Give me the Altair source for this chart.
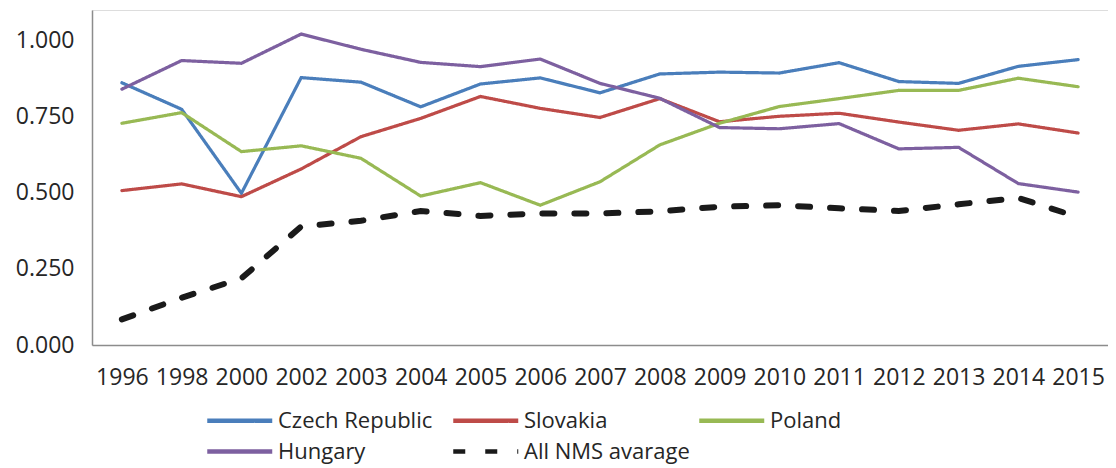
import altair as alt
import pandas as pd

years = ["1996", "1998", "2000", "2002", "2003", "2004", "2005", "2006", "2007",
         "2008", "2009", "2010", "2011", "2012", "2013", "2014", "2015"]

czech = [0.861, 0.774, 0.498, 0.878, 0.863, 0.782, 0.857, 0.877, 0.828,
         0.890, 0.896, 0.893, 0.927, 0.865, 0.859, 0.915, 0.937]
slovakia = [0.507, 0.529, 0.487, 0.578, 0.684, 0.744, 0.816, 0.777, 0.747,
            0.809, 0.733, 0.751, 0.761, 0.732, 0.705, 0.726, 0.696]
poland = [0.728, 0.763, 0.635, 0.654, 0.613, 0.489, 0.533, 0.459, 0.536,
          0.657, 0.728, 0.783, 0.809, 0.836, 0.836, 0.876, 0.848]
hungary = [0.840, 0.934, 0.925, 1.021, 0.971, 0.928, 0.914, 0.939, 0.859,
           0.810, 0.714, 0.710, 0.727, 0.644, 0.649, 0.530, 0.502]
nms_avg = [0.084, 0.155, 0.219, 0.389, 0.408, 0.440, 0.424, 0.432, 0.432,
           0.439, 0.454, 0.459, 0.449, 0.440, 0.462, 0.483, 0.420]

series_names = ["Czech Republic", "Slovakia", "Poland", "Hungary", "All NMS avarage"]
series_values = [czech, slovakia, poland, hungary, nms_avg]
series_colors = ["#4A7EBB", "#BE4B48", "#98B954", "#7D60A0", "#1A1A1A"]
series_dash = [[1, 0], [1, 0], [1, 0], [1, 0], [12, 20]]

rows = []
for name, vals in zip(series_names, series_values):
    for y, v in zip(years, vals):
        rows.append({"year": y, "value": v, "series": name})
df = pd.DataFrame(rows)

FONT = "Open Sans"
TXT = "#262626"


def legend_spec():
    return alt.Legend(orient="none", legendX=113, legendY=392, direction="horizontal",
                      columns=3, gridAlign="all", columnPadding=0,
                      rowPadding=1, symbolType="M-1,0H3",
                      symbolSize=1056, symbolStrokeWidth=4.5,
                      labelOffset=36, labelFontSize=22,
                      labelFont=FONT, labelColor=TXT, labelLimit=400)


enc = dict(
    x=alt.X("year:O", sort=years, title=None,
            scale=alt.Scale(type="point", padding=0.5),
            axis=alt.Axis(labelAngle=0, ticks=False, tickSize=0, labelPadding=21,
                          labelFontSize=23, labelColor=TXT, labelFont=FONT,
                          domainColor="#8C8C8C", domainWidth=1.5, grid=False)),
    y=alt.Y("value:Q", title=None,
            scale=alt.Scale(domain=[0, 1.1], nice=False),
            axis=alt.Axis(values=[0, 0.25, 0.5, 0.75, 1.0], format=".3f",
                          ticks=False, tickSize=0, labelPadding=18,
                          labelFontSize=23, labelColor=TXT, labelFont=FONT,
                          domainColor="#8C8C8C", domainWidth=1.5, grid=False)),
    color=alt.Color("series:N", title=None,
                    scale=alt.Scale(domain=series_names, range=series_colors),
                    legend=legend_spec()),
    strokeDash=alt.StrokeDash("series:N", title=None,
                              scale=alt.Scale(domain=series_names, range=series_dash),
                              legend=legend_spec()),
)

base = alt.Chart(df)

countries = base.transform_filter(
    alt.FieldOneOfPredicate(field="series", oneOf=series_names[:4])
).mark_line(strokeJoin="miter", strokeCap="round", strokeWidth=3.2).encode(**enc)

average = base.transform_filter(
    alt.FieldEqualPredicate(field="series", equal=series_names[4])
).mark_line(strokeJoin="miter", strokeCap="round", strokeWidth=6).encode(**enc)

chart = alt.layer(countries, average).properties(
    width=1016,
    height=335,
    autosize=alt.AutoSizeParams(type="none"),
    padding={"left": 84, "top": 2, "right": 0, "bottom": 123},
).configure_view(stroke=None).configure(font=FONT)

chart.save("out.html", embed_options={"renderer": "svg", "actions": False})
